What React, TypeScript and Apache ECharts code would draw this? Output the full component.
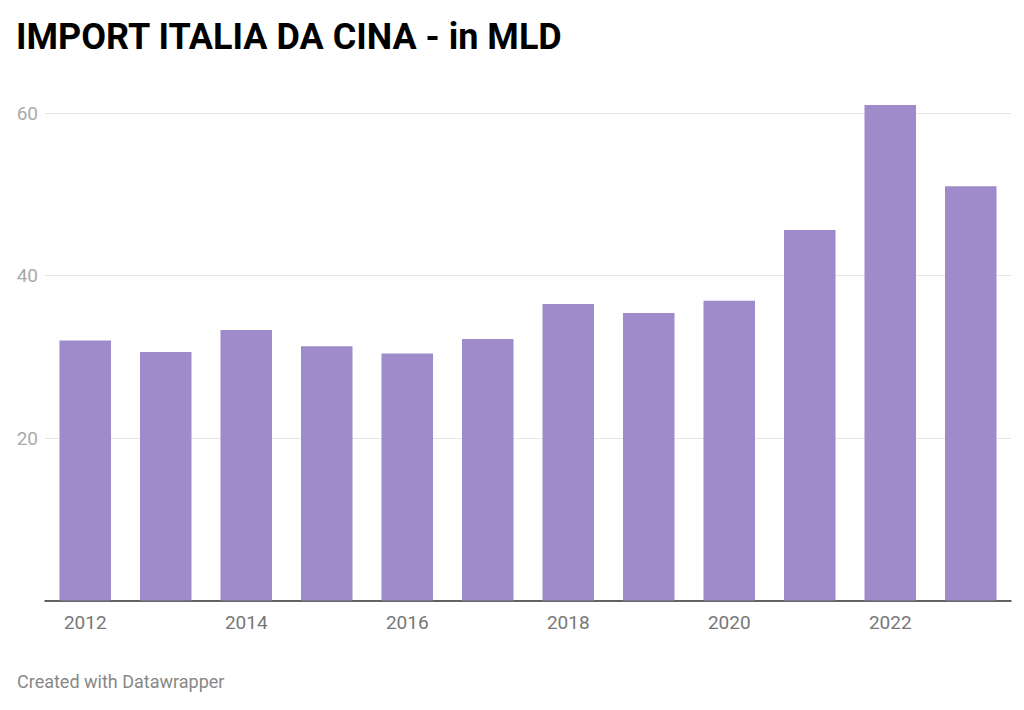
import React, { useEffect, useRef } from "react";
import * as echarts from "echarts";

const years = ["2012", "2013", "2014", "2015", "2016", "2017", "2018", "2019", "2020", "2021", "2022", "2023"];
const values = [32.0, 30.6, 33.3, 31.3, 30.4, 32.2, 36.5, 35.4, 36.9, 45.6, 61.0, 51.0];

export default function App() {
  const ref = useRef<HTMLDivElement>(null);
  useEffect(() => {
    if (!ref.current) return;
    const chart = echarts.init(ref.current, null, { renderer: "svg" });
    chart.setOption({
      animation: false,
      backgroundColor: "#ffffff",
      textStyle: { fontFamily: "Roboto" },
      title: [
        {
          text: "IMPORT ITALIA DA CINA - in MLD",
          left: 16,
          top: 19,
          padding: 0,
          textStyle: { fontFamily: "Roboto", fontWeight: "bold", fontSize: 36, color: "#000000" },
        },
        {
          text: "Created with Datawrapper",
          left: 17,
          top: 672,
          padding: 0,
          textStyle: { fontFamily: "Roboto", fontWeight: "normal", fontSize: 18, color: "#888888" },
        },
      ],
      grid: { left: 45, right: 13, top: 113, bottom: 109.5 },
      xAxis: {
        type: "category",
        data: years,
        axisLine: { lineStyle: { color: "#333333", width: 1.5 } },
        axisTick: { show: false },
        axisLabel: { interval: 1, color: "#777777", fontSize: 19, margin: 12, fontFamily: "Roboto" },
      },
      yAxis: {
        type: "value",
        min: 0,
        max: 60,
        interval: 20,
        axisLine: { show: false },
        axisTick: { show: false },
        axisLabel: {
          color: "#aaaaaa",
          fontSize: 19,
          margin: 7,
          fontFamily: "Roboto",
          formatter: (v: number) => (v === 0 ? "" : String(v)),
        },
        splitLine: { lineStyle: { color: "#e6e6e6", width: 1 } },
      },
      series: [
        {
          type: "bar",
          data: values,
          clip: false,
          barCategoryGap: "36%",
          itemStyle: { color: "#9f8aca" },
        },
      ],
    });
    return () => chart.dispose();
  }, []);
  return <div ref={ref} style={{ position: "absolute", left: 0, top: 0, width: 1024, height: 710 }} />;
}
